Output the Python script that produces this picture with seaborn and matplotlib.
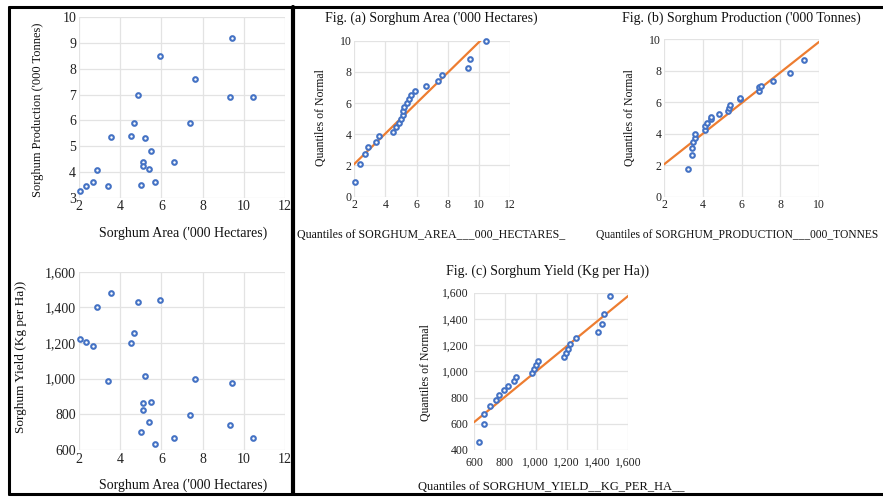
import seaborn as sns
import pandas as pd
import matplotlib.pyplot as plt
from matplotlib.lines import Line2D
from matplotlib.ticker import FuncFormatter

# sorghum data (one entry per year)
area = [2.06, 2.36, 2.68, 2.89, 3.42, 3.57, 4.51, 4.69, 4.86, 5.01, 5.11, 5.11,
        5.19, 5.41, 5.50, 5.67, 5.92, 6.61, 7.39, 7.61, 9.31, 9.41, 10.45]
production = [3.26, 3.44, 3.62, 4.09, 3.44, 5.34, 5.40, 5.90, 6.99, 3.51, 4.40, 4.22,
              5.31, 4.12, 4.81, 3.62, 8.48, 4.40, 5.90, 7.61, 6.90, 9.21, 6.90]
yield_kg = [1222, 1206, 1185, 1404, 987, 1480, 1198, 1258, 1430, 701, 862, 822,
            1017, 759, 871, 634, 1441, 665, 794, 1000, 742, 978, 665]

# normal quantiles
q_area = [0.96, 2.09, 2.72, 3.20, 3.50, 3.86, 4.15, 4.44, 4.70, 4.96, 5.22, 5.47,
          5.72, 5.98, 6.24, 6.50, 6.79, 7.09, 7.41, 7.78, 8.23, 8.85, 10.0]
q_prod = [1.73, 2.62, 3.08, 3.47, 3.72, 3.99, 4.25, 4.46, 4.67, 4.90, 5.07, 5.24,
          5.43, 5.62, 5.80, 6.18, 6.24, 6.70, 6.93, 7.02, 7.34, 7.84, 8.69]
q_yield = [461, 598, 677, 733, 781, 819, 855, 888, 924, 959, 985, 1015,
           1045, 1076, 1107, 1142, 1173, 1211, 1251, 1297, 1361, 1434, 1572]

# reference lines (ends) on the Q-Q plots
line_a_x, line_a_y = [1.95, 10.1], [2.05, 10.0]
line_b_x, line_b_y = [2.0, 10.0], [2.05, 9.83]
line_c_x, line_c_y = [600, 1606], [612, 1582]

df = pd.DataFrame({"area": area, "production": production, "yield": yield_kg})

sns.set_theme(style="white")
plt.rcParams['font.family'] = ['Liberation Serif', 'DejaVu Serif']

W, H = 883, 497
fig = plt.figure(figsize=(W / 100, H / 100), dpi=100)


def box(l, t, r, b):
    # pixel box -> figure fraction
    return [l / W, 1 - b / H, (r - l) / W, (b - t) / H]


def label(x, y, s, fs, rot=0):
    fig.text(x / W, 1 - y / H, s, ha="center", va="center", rotation=rot,
             fontsize=fs, color="#111111")


blue = "#4472C4"
orange = "#ED7D31"
grid = "#e3e3e3"
comma = FuncFormatter(lambda v, p: f"{int(v):,}")


def style(ax, xt, yt, fs):
    ax.set_xticks(xt)
    ax.set_yticks(yt)
    ax.set_xlim(xt[0], xt[-1])
    ax.set_ylim(yt[0], yt[-1])
    for s in ax.spines.values():
        s.set_visible(False)
    ax.grid(True, color=grid, linewidth=0.9)
    ax.tick_params(length=0, labelsize=fs, pad=2, colors="#222222")
    ax.set_xlabel("")
    ax.set_ylabel("")


def dots(ax, x, y):
    sns.scatterplot(x=x, y=y, ax=ax, marker="o", s=11, facecolor="white",
                    edgecolor=blue, linewidth=1.5, zorder=3, clip_on=False)


# --- left: area vs production
ax1 = fig.add_axes(box(79, 17.3, 285, 197.7))
dots(ax1, df["area"], df["production"])
style(ax1, [2, 4, 6, 8, 10, 12], [3, 4, 5, 6, 7, 8, 9, 10], 10)
label(183, 233, "Sorghum Area ('000 Hectares)", 10)
label(38, 110, "Sorghum Production ('000 Tonnes)", 9, 90)

# --- left: area vs yield
ax2 = fig.add_axes(box(79, 271.7, 285, 450))
dots(ax2, df["area"], df["yield"])
style(ax2, [2, 4, 6, 8, 10, 12], [600, 800, 1000, 1200, 1400, 1600], 10)
ax2.yaxis.set_major_formatter(comma)
label(183, 485, "Sorghum Area ('000 Hectares)", 10)
label(21, 357, "Sorghum Yield (Kg per Ha))", 9.5, 90)

# --- Q-Q (a)
axa = fig.add_axes(box(354.3, 40.7, 510, 196.7))
sns.lineplot(x=line_a_x, y=line_a_y, ax=axa, color=orange, linewidth=1.6, zorder=2)
dots(axa, sorted(area), q_area)
style(axa, [2, 4, 6, 8, 10, 12], [0, 2, 4, 6, 8, 10], 8.5)
label(431, 18, "Fig. (a) Sorghum Area ('000 Hectares)", 10)
label(321, 118, "Quantiles of Normal", 8.5, 90)
label(431, 235, "Quantiles of SORGHUM_AREA___000_HECTARES_", 8.6)

# --- Q-Q (b)
axb = fig.add_axes(box(664, 39, 819.3, 196.7))
sns.lineplot(x=line_b_x, y=line_b_y, ax=axb, color=orange, linewidth=1.6, zorder=2)
dots(axb, sorted(production), q_prod)
style(axb, [2, 4, 6, 8, 10], [0, 2, 4, 6, 8, 10], 8.5)
label(741, 18, "Fig. (b) Sorghum Production ('000 Tonnes)", 10)
label(630, 118, "Quantiles of Normal", 8.5, 90)
label(737, 235, "Quantiles of SORGHUM_PRODUCTION___000_TONNES", 8.3)

# --- Q-Q (c)
axc = fig.add_axes(box(474, 292.7, 628.3, 450))
sns.lineplot(x=line_c_x, y=line_c_y, ax=axc, color=orange, linewidth=1.6, zorder=2)
dots(axc, sorted(yield_kg), q_yield)
style(axc, [600, 800, 1000, 1200, 1400, 1600], [400, 600, 800, 1000, 1200, 1400, 1600], 8.5)
axc.tick_params(axis="x", pad=5)
axc.tick_params(axis="y", pad=4)
axc.xaxis.set_major_formatter(comma)
axc.yaxis.set_major_formatter(comma)
label(548, 271.7, "Fig. (c) Sorghum Yield (Kg per Ha))", 10)
label(425.7, 373, "Quantiles of Normal", 8.5, 90)
label(551, 487, "Quantiles of SORGHUM_YIELD__KG_PER_HA__", 9)

# frame lines
for (x0, y0, x1, y1, lw) in [(9, 7, 883, 7, 2.2), (9, 494, 883, 494, 2.2),
                             (9, 7, 9, 494, 2.2), (293, 7, 293, 494, 3.0)]:
    fig.add_artist(Line2D([x0 / W, x1 / W], [1 - y0 / H, 1 - y1 / H], color="black",
                          linewidth=lw, transform=fig.transFigure))

fig.savefig("out.png", dpi=100)
